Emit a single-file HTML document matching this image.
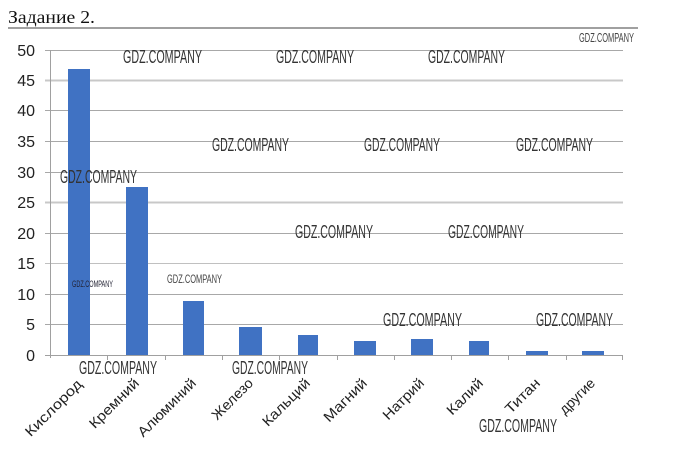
<!DOCTYPE html>
<html><head><meta charset="utf-8"><style>
html,body{margin:0;padding:0;background:#fff;}
svg{display:block;}
</style></head><body>
<svg width="691" height="454" viewBox="0 0 691 454" xmlns="http://www.w3.org/2000/svg">
<rect width="691" height="454" fill="#fff"/>
<!-- title -->
<text x="8" y="23" font-family="Liberation Serif, serif" font-size="18" fill="#111" textLength="87" lengthAdjust="spacingAndGlyphs">Задание 2.</text>
<line x1="8" y1="28" x2="638" y2="28" stroke="#a0a0a0" stroke-width="2"/>
<!-- gridlines -->
<g stroke="#a8a8a8" stroke-width="1">
<line x1="45" y1="50.5" x2="623" y2="50.5"/>
<line x1="45" y1="80.5" x2="623" y2="80.5" stroke="#c8c8c8" stroke-width="2"/>
<line x1="45" y1="110.5" x2="623" y2="110.5"/>
<line x1="45" y1="141.5" x2="623" y2="141.5"/>
<line x1="45" y1="172.5" x2="623" y2="172.5"/>
<line x1="45" y1="202.5" x2="623" y2="202.5" stroke="#c8c8c8" stroke-width="2"/>
<line x1="45" y1="233.5" x2="623" y2="233.5"/>
<line x1="45" y1="263.5" x2="623" y2="263.5" stroke="#c0c0c0"/>
<line x1="45" y1="294.5" x2="623" y2="294.5"/>
<line x1="45" y1="324.5" x2="623" y2="324.5"/>
</g>
<!-- axes -->
<line x1="50.5" y1="50" x2="50.5" y2="358" stroke="#a0a0a0"/>
<line x1="45" y1="355.5" x2="623" y2="355.5" stroke="#a0a0a0"/>
<g stroke="#a0a0a0">
<line x1="107.5" y1="355" x2="107.5" y2="360"/>
<line x1="165.5" y1="355" x2="165.5" y2="360"/>
<line x1="222.5" y1="355" x2="222.5" y2="360"/>
<line x1="279.5" y1="355" x2="279.5" y2="360"/>
<line x1="337.5" y1="355" x2="337.5" y2="360"/>
<line x1="394.5" y1="355" x2="394.5" y2="360"/>
<line x1="451.5" y1="355" x2="451.5" y2="360"/>
<line x1="508.5" y1="355" x2="508.5" y2="360"/>
<line x1="566.5" y1="355" x2="566.5" y2="360"/>
<line x1="622.5" y1="355" x2="622.5" y2="360"/>
</g>
<!-- y labels -->
<g font-family="Liberation Sans, sans-serif" font-size="16" fill="#222" text-anchor="end">
<text x="35" y="56">50</text>
<text x="35" y="86">45</text>
<text x="35" y="116">40</text>
<text x="35" y="147">35</text>
<text x="35" y="178">30</text>
<text x="35" y="208">25</text>
<text x="35" y="239">20</text>
<text x="35" y="269">15</text>
<text x="35" y="300">10</text>
<text x="35" y="330">5</text>
<text x="35" y="361">0</text>
</g>
<!-- bars -->
<g fill="#4072c3">
<rect x="68" y="69" width="22" height="286"/>
<rect x="126" y="187" width="22" height="168"/>
<rect x="183" y="301" width="21" height="54"/>
<rect x="239" y="327" width="23" height="28"/>
<rect x="298" y="335" width="20" height="20"/>
<rect x="354" y="341" width="22" height="14"/>
<rect x="411" y="339" width="22" height="16"/>
<rect x="469" y="341" width="20" height="14"/>
<rect x="526" y="351" width="22" height="4"/>
<rect x="582" y="351" width="22" height="4"/>
</g>
<!-- x labels -->
<g font-family="Liberation Sans, sans-serif" font-size="14" fill="#222" text-anchor="end" lengthAdjust="spacingAndGlyphs">
<text transform="translate(83,385) rotate(-45)" textLength="74" lengthAdjust="spacingAndGlyphs">Кислород</text>
<text transform="translate(140,384) rotate(-45)" textLength="64" lengthAdjust="spacingAndGlyphs">Кремний</text>
<text transform="translate(197,384) rotate(-45)" textLength="76" lengthAdjust="spacingAndGlyphs">Алюминий</text>
<text transform="translate(254,384) rotate(-45)" textLength="52" lengthAdjust="spacingAndGlyphs">Железо</text>
<text transform="translate(311,384) rotate(-45)" textLength="61" lengthAdjust="spacingAndGlyphs">Кальций</text>
<text transform="translate(368,384) rotate(-45)" textLength="55" lengthAdjust="spacingAndGlyphs">Магний</text>
<text transform="translate(425,384) rotate(-45)" textLength="52" lengthAdjust="spacingAndGlyphs">Натрий</text>
<text transform="translate(484,384) rotate(-45)" textLength="45" lengthAdjust="spacingAndGlyphs">Калий</text>
<text transform="translate(541,384) rotate(-45)" textLength="43" lengthAdjust="spacingAndGlyphs">Титан</text>
<text transform="translate(596,384) rotate(-45)" textLength="44" lengthAdjust="spacingAndGlyphs">другие</text>
</g>
<!-- watermarks -->
<g font-family="Liberation Sans, sans-serif" font-size="18" fill="#333">
<text x="123" y="63" textLength="79" lengthAdjust="spacingAndGlyphs">GDZ.COMPANY</text>
<text x="276" y="63" textLength="78" lengthAdjust="spacingAndGlyphs">GDZ.COMPANY</text>
<text x="428" y="63" textLength="77" lengthAdjust="spacingAndGlyphs">GDZ.COMPANY</text>
<text x="212" y="151" textLength="77" lengthAdjust="spacingAndGlyphs">GDZ.COMPANY</text>
<text x="364" y="151" textLength="76" lengthAdjust="spacingAndGlyphs">GDZ.COMPANY</text>
<text x="516" y="151" textLength="77" lengthAdjust="spacingAndGlyphs">GDZ.COMPANY</text>
<text x="60" y="183" textLength="77" lengthAdjust="spacingAndGlyphs">GDZ.COMPANY</text>
<text x="295" y="238" textLength="78" lengthAdjust="spacingAndGlyphs">GDZ.COMPANY</text>
<text x="448" y="238" textLength="76" lengthAdjust="spacingAndGlyphs">GDZ.COMPANY</text>
<text x="79" y="374" textLength="78" lengthAdjust="spacingAndGlyphs">GDZ.COMPANY</text>
<text x="232" y="374" textLength="76" lengthAdjust="spacingAndGlyphs">GDZ.COMPANY</text>
<text x="383" y="326" textLength="79" lengthAdjust="spacingAndGlyphs">GDZ.COMPANY</text>
<text x="536" y="326" textLength="77" lengthAdjust="spacingAndGlyphs">GDZ.COMPANY</text>
<text x="479" y="432" textLength="78" lengthAdjust="spacingAndGlyphs">GDZ.COMPANY</text>
</g>
<text x="579" y="42" font-family="Liberation Sans, sans-serif" font-size="13" fill="#444" textLength="55" lengthAdjust="spacingAndGlyphs">GDZ.COMPANY</text>
<text x="167" y="283" font-family="Liberation Sans, sans-serif" font-size="12" fill="#444" textLength="55" lengthAdjust="spacingAndGlyphs">GDZ.COMPANY</text>
<text x="72" y="287" font-family="Liberation Sans, sans-serif" font-size="9" fill="#223" textLength="41" lengthAdjust="spacingAndGlyphs">GDZ.COMPANY</text>
</svg>
</body></html>
